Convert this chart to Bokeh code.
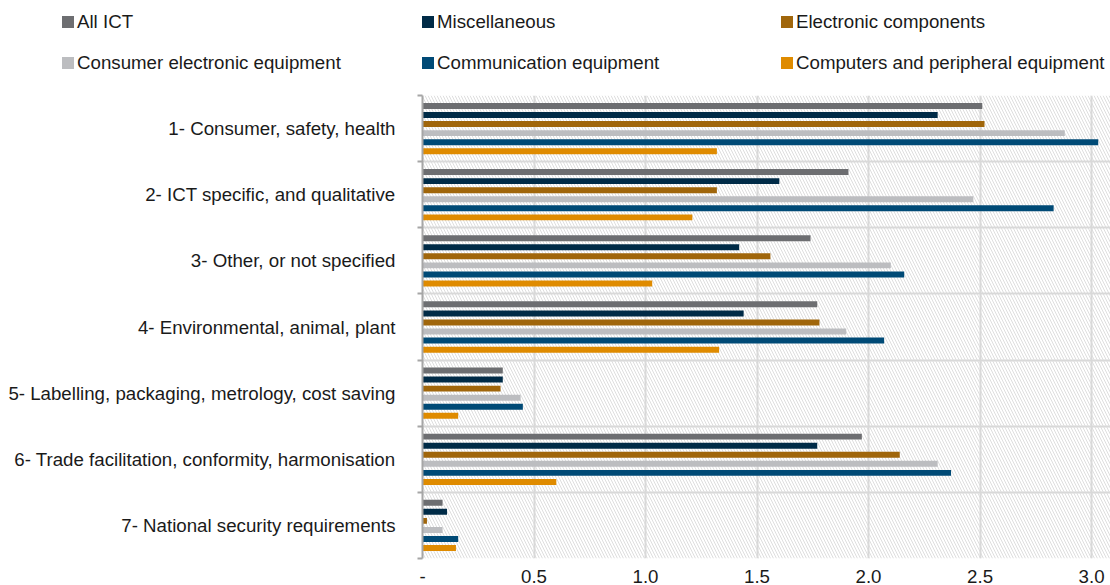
from bokeh.plotting import figure
from bokeh.layouts import column
from bokeh.models import Range1d, FixedTicker, BoxAnnotation, NumeralTickFormatter, ColumnDataSource, Div
from bokeh.embed import file_html
from bokeh.resources import INLINE

categories = [
    "1- Consumer, safety, health",
    "2- ICT specific, and qualitative",
    "3- Other, or not specified",
    "4- Environmental, animal, plant",
    "5- Labelling, packaging, metrology, cost saving",
    "6- Trade facilitation, conformity, harmonisation",
    "7- National security requirements",
]
series = [
    "All ICT",
    "Miscellaneous",
    "Electronic components",
    "Consumer electronic equipment",
    "Communication equipment",
    "Computers and peripheral equipment",
]
colors = ["#6d6e71", "#002b47", "#a0660b", "#bcbdc0", "#004a76", "#df8b00"]

all_ict = [2.51, 1.91, 1.74, 1.77, 0.36, 1.97, 0.09]
misc = [2.31, 1.60, 1.42, 1.44, 0.36, 1.77, 0.11]
electronic = [2.52, 1.32, 1.56, 1.78, 0.35, 2.14, 0.02]
consumer = [2.88, 2.47, 2.10, 1.90, 0.44, 2.31, 0.09]
communication = [3.03, 2.83, 2.16, 2.07, 0.45, 2.37, 0.16]
computers = [1.32, 1.21, 1.03, 1.33, 0.16, 0.60, 0.15]
values = [all_ict, misc, electronic, consumer, communication, computers]

x_ticks = [0, 0.5, 1.0, 1.5, 2.0, 2.5, 3.0]

FONT = "Liberation Sans"
FSIZE = "18.7px"
TCOL = "#1a1a1a"

n = len(categories)
centers = [n - 0.5 - i for i in range(n)]
bounds = list(range(n + 1))

# ---------------- legend (HTML, 3 columns x 2 rows) ----------------
LEG_COL_X = [62, 422, 781]
LEG_ROW_Y = [8, 49]
parts = []
for k, (name, col) in enumerate(zip(series, colors)):
    r, c = divmod(k, 3)
    parts.append(
        f'<div style="position:absolute;left:{LEG_COL_X[c]}px;top:{LEG_ROW_Y[r]}px;height:28px;'
        f'display:flex;align-items:center;white-space:nowrap;">'
        f'<span style="display:inline-block;width:12px;height:12px;background:{col};margin-right:3px;"></span>'
        f'<span style="font-family:\'{FONT}\';font-size:{FSIZE};color:{TCOL};line-height:28px;">{name}</span>'
        f'</div>'
    )
legend_div = Div(text='<div style="position:relative;width:1110px;height:90px;">' + "".join(parts) + "</div>",
                 width=1110, height=90, margin=0)

# ---------------- main chart ----------------
p = figure(width=1110, height=495, output_backend="svg", toolbar_location=None,
           x_range=Range1d(0, 3.085), y_range=Range1d(0, n),
           min_border_left=422, min_border_right=0, min_border_top=5, min_border_bottom=0)
p.outline_line_color = None

p.add_layout(BoxAnnotation(fill_color=None, line_color=None, hatch_pattern="\\",
                           hatch_color="#dedede", hatch_scale=6, hatch_weight=1, level="image"))

step = 0.137
bar_h = 0.09
for j, (name, vals, col) in enumerate(zip(series, values, colors)):
    src = ColumnDataSource(dict(y=[c + (2.5 - j) * step for c in centers], right=vals))
    p.hbar(y="y", right="right", left=0, height=bar_h, source=src,
           fill_color=col, line_color=None)

xa = p.xaxis[0]
xa.ticker = FixedTicker(ticks=x_ticks)
xa.formatter = NumeralTickFormatter(format="0.0")
xa.major_label_overrides = {0: "-"}
xa.axis_line_color = None
xa.major_tick_line_color = None
xa.minor_tick_line_color = None
xa.major_tick_out = 0
xa.major_label_standoff = 11
xa.major_label_text_font = FONT
xa.major_label_text_font_size = FSIZE
xa.major_label_text_color = TCOL

ya = p.yaxis[0]
ya.ticker = FixedTicker(ticks=centers, minor_ticks=bounds)
ya.major_label_overrides = {c: cat for c, cat in zip(centers, categories)}
ya.major_tick_line_color = None
ya.major_tick_out = 0
ya.minor_tick_in = 0
ya.minor_tick_out = 5
ya.minor_tick_line_color = "#a6a6a6"
ya.minor_tick_line_width = 2
ya.axis_line_color = "#a6a6a6"
ya.axis_line_width = 2
ya.major_label_standoff = 22
ya.major_label_text_font = FONT
ya.major_label_text_font_size = FSIZE
ya.major_label_text_color = TCOL

p.xgrid.grid_line_color = "#d9d9d9"
p.xgrid.grid_line_width = 2
p.ygrid.grid_line_color = None
p.ygrid.minor_grid_line_color = "#d9d9d9"
p.ygrid.minor_grid_line_width = 2

layout = column(legend_div, p, spacing=0)
open("out.html", "w").write(file_html(layout, INLINE))
